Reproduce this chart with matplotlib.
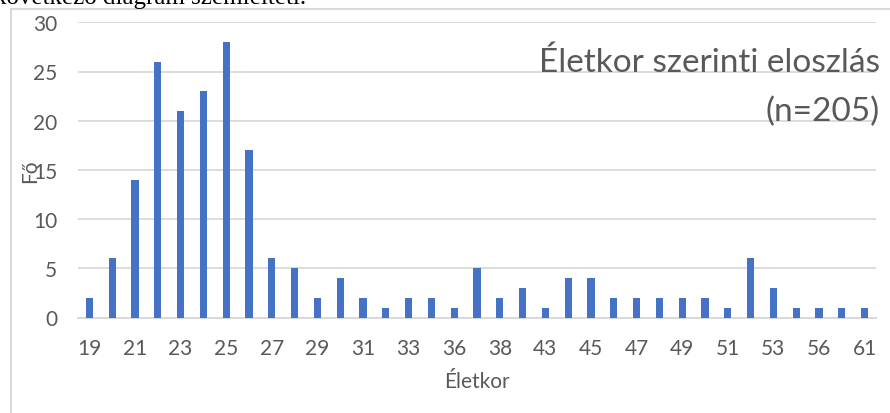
import numpy as np
import matplotlib.pyplot as plt
from matplotlib.lines import Line2D

plt.rcParams.update({
    'font.family': ['Lato', 'DejaVu Sans'],
    'font.size': 15,
})

# age groups (only ages that occur in the sample) and head counts
ages = [19, 20, 21, 22, 23, 24, 25, 26, 27, 28, 29, 30, 31, 32, 33, 35, 36,
        37, 38, 40, 43, 44, 45, 46, 47, 48, 49, 50, 51, 52, 53, 55, 56, 58, 61]
counts = [2, 6, 14, 26, 21, 23, 28, 17, 6, 5, 2, 4, 2, 1, 2, 2, 1,
          5, 2, 3, 1, 4, 4, 2, 2, 2, 2, 2, 1, 6, 3, 1, 1, 1, 1]
y_ticks = [0, 5, 10, 15, 20, 25, 30]

title_line1 = 'Életkor szerinti eloszlás'
title_line2 = f'(n={sum(counts)})'

TEXT = '#595959'
GRID = '#d9d9d9'
BAR = '#4472c4'

fig = plt.figure(figsize=(8.9, 4.14), dpi=100)
ax = fig.add_axes([78 / 890, 1 - 318.5 / 414, 798 / 890, 295.2 / 414])

x = np.arange(len(ages))
ax.bar(x, counts, width=0.31, color=BAR, zorder=3)

ax.set_xlim(-0.5, len(ages) - 0.5)
ax.set_ylim(0, 30)
ax.set_yticks(y_ticks)
ax.set_xticks(x[::2])
ax.set_xticklabels([str(a) for a in ages[::2]])
ax.tick_params(axis='both', length=0, colors=TEXT, labelsize=15)
ax.tick_params(axis='x', pad=15)
ax.tick_params(axis='y', pad=15)

ax.yaxis.grid(True, color=GRID, lw=1.3, zorder=0)
for side in ['top', 'right', 'left']:
    ax.spines[side].set_visible(False)
ax.spines['bottom'].set_color(GRID)
ax.spines['bottom'].set_linewidth(1.5)

ax.set_xlabel('Életkor', color=TEXT, fontsize=15, labelpad=9)
ax.set_ylabel('Fő', color=TEXT, fontsize=15)
ax.yaxis.set_label_coords(-0.048, 0.5)

ax.text(802 / 798, 25, title_line1, transform=ax.get_yaxis_transform(),
        ha='right', va='baseline', fontsize=24, color=TEXT)
ax.text(802 / 798, 20.1, title_line2, transform=ax.get_yaxis_transform(),
        ha='right', va='baseline', fontsize=24, color=TEXT)

# chart frame (left and top edges only reach into the image)
fig.add_artist(Line2D([10.5 / 890, 10.5 / 890], [0, 1 - 9.5 / 414],
                      color=GRID, lw=1.5))
fig.add_artist(Line2D([10.5 / 890, 1], [1 - 9.5 / 414, 1 - 9.5 / 414],
                      color=GRID, lw=1.5))

# surrounding document line cut off at the top edge
fig.text(-6 / 890, 1 - 4 / 414, 'következő diagram szemlélteti.',
         family='Liberation Serif', fontsize=18, color='black',
         ha='left', va='baseline')

fig.savefig('out.png', dpi=100)
